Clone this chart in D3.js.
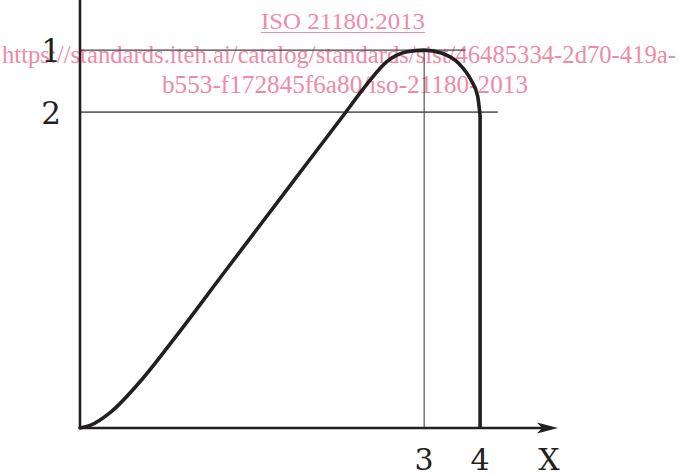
<!DOCTYPE html>
<html>
<head>
<meta charset="utf-8">
<script src="https://cdn.jsdelivr.net/npm/d3@7"></script>
<style>
html,body{margin:0;padding:0;background:#fff;}
svg{display:block;}
</style>
</head>
<body>
<svg id="chart" width="679" height="475"></svg>
<script>
// ---- data (abstract units, x: 0..100, y: 0..100) ----
const curveX = [0, 2.1, 6.3, 13, 20, 30, 45, 55, 60, 64.2, 68.4, 72.0, 75.6, 79.2, 81.8, 83.2, 83.7];
const curveY = [0, 0.6, 3.6, 11.4, 21.3, 36.1, 58.2, 72.9, 80.3, 85.6, 87.9, 88.3, 87.6, 85.2, 81.3, 77.5, 73.0];
const refLevels = [88.3, 73.8];          // horizontal reference lines "1" and "2"
const refLevelEnds = [80.6, 87.4];       // x extent of those reference lines
const refLevelLabels = ["1", "2"];
const refPositions = [72.0, 83.7];       // x positions "3" and "4"
const refPositionLabels = ["3", "4"];
const axisLabelX = "X";
const watermarkLines = [
  "ISO 21180:2013",
  "https://standards.iteh.ai/catalog/standards/sist/46485334-2d70-419a-",
  "b553-f172845f6a80/iso-21180-2013"
];

const svg = d3.select("#chart");
const x = d3.scaleLinear().domain([0, 100]).range([80, 558]);
const y = d3.scaleLinear().domain([0, 100]).range([428, 0]);
const ink = "#231f20";
const labelFont = "'DejaVu Serif', serif";
const wmColor = "#ef8aa8";

// ---- watermark (drawn underneath) ----
const wm = svg.append("g").attr("fill", wmColor)
  .style("font-family", "'Liberation Serif','Times New Roman',Times,serif");
wm.append("text").attr("x", 343).attr("y", 29).attr("text-anchor", "middle")
  .style("font-size", "24px")
  .attr("textLength", 164).attr("lengthAdjust", "spacingAndGlyphs").text(watermarkLines[0]);
wm.append("line").attr("x1", 261).attr("x2", 425).attr("y1", 32.5).attr("y2", 32.5)
  .attr("stroke", wmColor).attr("stroke-width", 1.2);
wm.append("text").attr("x", 2).attr("y", 62.5)
  .style("font-size", "25.5px")
  .attr("textLength", 674).attr("lengthAdjust", "spacingAndGlyphs").text(watermarkLines[1]);
wm.append("text").attr("x", 162).attr("y", 93)
  .style("font-size", "25.5px")
  .attr("textLength", 366).attr("lengthAdjust", "spacingAndGlyphs").text(watermarkLines[2]);

// ---- reference lines ----
const strokes = ["#444", "#666"];
const widths = [1.3, 1.6];
refLevels.forEach((v, i) => {
  svg.append("line")
    .attr("x1", x(0)).attr("x2", x(refLevelEnds[i]))
    .attr("y1", y(v)).attr("y2", y(v))
    .attr("stroke", strokes[i]).attr("stroke-width", widths[i]);
  svg.append("text")
    .attr("x", 61).attr("y", y(v) + 12)
    .attr("text-anchor", "end")
    .style("font-family", labelFont).style("font-size", "31px")
    .attr("fill", ink).text(refLevelLabels[i]);
});
svg.append("line")
  .attr("x1", x(refPositions[0])).attr("x2", x(refPositions[0]))
  .attr("y1", y(refLevels[0])).attr("y2", y(0))
  .attr("stroke", "#444").attr("stroke-width", 1.1);

refPositions.forEach((v, i) => {
  svg.append("text")
    .attr("x", x(v)).attr("y", 470)
    .attr("text-anchor", "middle")
    .style("font-family", labelFont).style("font-size", "30px")
    .attr("fill", ink).text(refPositionLabels[i]);
});
svg.append("text")
  .attr("x", 549).attr("y", 470).attr("text-anchor", "middle")
  .style("font-family", labelFont).style("font-size", "30px")
  .attr("fill", ink).text(axisLabelX);

// ---- axes ----
svg.append("line").attr("x1", x(0)).attr("x2", x(0)).attr("y1", 0).attr("y2", y(0))
  .attr("stroke", ink).attr("stroke-width", 2.6);
svg.append("line").attr("x1", x(0)).attr("x2", 545).attr("y1", y(0)).attr("y2", y(0))
  .attr("stroke", ink).attr("stroke-width", 2.4);
svg.append("path")
  .attr("d", `M${x(100)},${y(0)} L537,${y(0) - 5.5} L542,${y(0)} L537,${y(0) + 5.5} Z`)
  .attr("fill", ink);

// ---- curve ----
const pts = curveX.map((v, i) => [v, curveY[i]]);
const line = d3.line().x(d => x(d[0])).y(d => y(d[1])).curve(d3.curveMonotoneX);
svg.append("path").attr("d", line(pts))
  .attr("fill", "none").attr("stroke", ink).attr("stroke-width", 3.6)
  .attr("stroke-linecap", "round").attr("stroke-linejoin", "round");
const last = pts[pts.length - 1];
svg.append("path").attr("d", d3.line().x(d => x(d[0])).y(d => y(d[1]))([last, [last[0], 0]]))
  .attr("fill", "none").attr("stroke", ink).attr("stroke-width", 3.6)
  .attr("stroke-linecap", "butt");
</script>
</body>
</html>
